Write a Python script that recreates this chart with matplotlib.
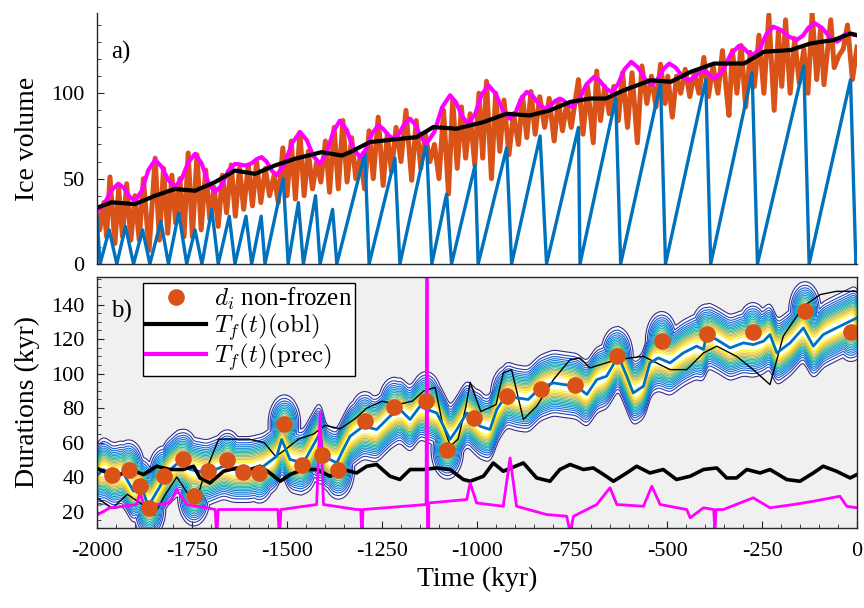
import numpy as np
import matplotlib.pyplot as plt
from matplotlib.colors import LinearSegmentedColormap
from matplotlib.ticker import MultipleLocator
from matplotlib.lines import Line2D

plt.rcParams['font.family'] = 'Liberation Serif'
plt.rcParams['mathtext.fontset'] = 'cm'
plt.rcParams['axes.unicode_minus'] = False

# ---------------- panel a) ice volume ----------------
saw_t = [-2000, -1992, -1968, -1948, -1925, -1904, -1880, -1861, -1832, -1812,
         -1785, -1764, -1742, -1724, -1698, -1681, -1652, -1637, -1608, -1593,
         -1568, -1558, -1510, -1497, -1470, -1457, -1425, -1413, -1380, -1369,
         -1295, -1284, -1216, -1203, -1133, -1119, -1080, -1067, -1005, -997,
         -922, -909, -834, -817, -733, -729, -635, -622, -517, -504,
         -398, -385, -276, -262, -140, -126, -17, -3, 0]
saw_v = [28, 0, 20, 0, 22, 0, 20, 0, 25, 0,
         30, 0, 20, 0, 32, 0, 28, 0, 28, 0,
         28, 0, 50, 0, 36, 0, 40, 0, 32, 0,
         65, 0, 62, 0, 71, 0, 41, 0, 58, 0,
         68, 0, 75, 0, 80, 0, 97, 0, 106, 0,
         108, 0, 112, 0, 116, 0, 108, 0, 3]

orange_t = [-2000, -1993, -1982, -1975, -1966, -1953, -1943, -1933, -1922, -1911,
            -1900, -1889, -1878, -1863, -1847, -1836, -1825, -1814, -1803, -1793,
            -1782, -1771, -1760, -1749, -1737, -1726, -1714, -1703, -1692, -1681,
            -1670, -1659, -1647, -1636, -1625, -1614, -1602, -1591, -1580, -1569,
            -1557, -1546, -1534, -1523, -1511, -1500, -1489, -1478, -1466, -1455,
            -1444, -1433, -1422, -1411, -1399, -1388, -1376, -1365, -1353, -1342,
            -1330, -1319, -1307, -1296, -1284, -1273, -1260, -1247, -1236, -1225,
            -1213, -1200, -1187, -1172, -1160, -1148, -1136, -1124, -1112, -1100,
            -1088, -1075, -1064, -1052, -1041, -1030, -1018, -1006, -995, -985,
            -975, -962, -951, -940, -929, -916, -904, -891, -880, -869,
            -858, -847, -835, -822, -810, -797, -786, -775, -764, -752,
            -733, -721, -709, -694, -685, -675, -664, -652, -640, -628,
            -617, -604, -592, -578, -566, -553, -541, -529, -517, -505,
            -498, -486, -475, -464, -452, -440, -428, -416, -403, -391,
            -379, -366, -354, -345, -337, -328, -316, -305, -293, -281,
            -270, -258, -245, -232, -218, -207, -198, -188, -176, -164,
            -152, -140, -129, -118, -106, -96, -87, -69, -60, -48,
            -36, -25, -12, 0]
orange_v = [30, 20, 36, 16, 51, 12, 44, 16, 47, 14,
            40, 14, 50, 8, 62, 14, 56, 18, 52, 24,
            50, 16, 65, 16, 64, 20, 55, 26, 45, 22,
            52, 30, 58, 28, 56, 32, 58, 34, 60, 36,
            56, 40, 52, 36, 68, 40, 72, 38, 77, 40,
            66, 44, 60, 48, 72, 42, 80, 44, 84, 48,
            74, 50, 63, 44, 78, 50, 86, 46, 76, 54,
            80, 60, 90, 49, 84, 56, 76, 60, 70, 50,
            90, 41, 96, 56, 92, 62, 88, 58, 100, 62,
            107, 50, 100, 66, 96, 64, 88, 70, 98, 74,
            101, 76, 98, 80, 97, 72, 96, 78, 94, 80,
            108, 76, 104, 71, 113, 84, 104, 88, 104, 84,
            112, 80, 112, 71, 116, 94, 110, 92, 117, 94,
            110, 86, 110, 100, 114, 98, 112, 100, 121, 98,
            116, 100, 125, 104, 87, 125, 100, 128, 92, 124,
            104, 134, 100, 146, 90, 136, 104, 143, 100, 132,
            106, 126, 100, 147, 108, 138, 105, 143, 115, 122,
            126, 140, 108, 127]

env_t = [-2000, -1981, -1963, -1944, -1929, -1915, -1900, -1882, -1865, -1847,
         -1830, -1812, -1795, -1777, -1760, -1742, -1725, -1707, -1690, -1672,
         -1655, -1637, -1627, -1616, -1606, -1593, -1580, -1567, -1554, -1540,
         -1527, -1507, -1486, -1466, -1448, -1431, -1413, -1396, -1378, -1361,
         -1343, -1326, -1308, -1292, -1276, -1260, -1247, -1233, -1220, -1205,
         -1191, -1176, -1162, -1147, -1133, -1112, -1092, -1071, -1055, -1039,
         -1023, -1005, -988, -970, -951, -932, -913, -898, -884, -869,
         -853, -837, -821, -808, -795, -782, -772, -761, -751, -731,
         -712, -692, -677, -662, -647, -629, -612, -594, -576, -558,
         -540, -525, -509, -494, -477, -460, -443, -430, -417, -404,
         -394, -384, -374, -353, -332, -311, -298, -286, -273, -255,
         -238, -220, -200, -179, -159, -143, -127, -111, -92, -72,
         -53, -44, -36, -27, -18, -9, 0]
env_v = [31, 35, 43, 47, 44.5, 39.5, 37, 43, 55, 61,
         57, 49, 45, 50, 59.5, 64.5, 59, 47.5, 42, 46,
         54.5, 58.6, 58.4, 57.9, 57.7, 59, 61.4, 62.6, 60, 54.6,
         52, 58.3, 71, 77.3, 72.6, 63.3, 58.6, 65, 77.6, 84,
         78.6, 68, 62.6, 67.3, 76.5, 81.2, 79.2, 75.3, 73.3, 76.3,
         82.1, 85.1, 81.4, 74.1, 70.4, 77.5, 91.7, 98.8, 94.6, 86.4,
         82.2, 87.8, 99.1, 104.7, 99.8, 90, 85.1, 89, 96.9, 100.8,
         98.4, 93.5, 91, 92.5, 95.4, 96.9, 95.7, 93.2, 92, 96.4,
         105.2, 109.6, 107.4, 103, 100.8, 105.2, 114, 118.4, 115, 108.4,
         105, 108.1, 114.3, 117.4, 115, 110, 107.6, 109, 112, 113.5,
         112.3, 109.8, 108.6, 113.4, 123, 127.7, 126.4, 123.7, 122.4, 126.5,
         134.8, 139, 137, 133.2, 131.2, 133.6, 138.5, 141, 138.3, 132.9,
         130.2, 131.4, 133.8, 135, 134.8, 134.3, 134]

mean_t = [-2000, -1961, -1900, -1847, -1795, -1742, -1690, -1637, -1584, -1532,
          -1479, -1409, -1356, -1334, -1282, -1203, -1159, -1115, -1054, -983,
          -922, -861, -808, -755, -703, -661, -613, -543, -490, -438,
          -376, -297, -245, -175, -122, -61, -17, 0]
mean_v = [33, 36.1, 35.1, 40, 43.9, 42.9, 47.9, 54.7, 52.8, 57.7,
          61.6, 65.5, 63.5, 65.5, 71.4, 73.3, 74.3, 80.2, 79.2, 83.1,
          88, 87, 90, 94.9, 96.9, 96.9, 101.8, 107.6, 106.7, 112.5,
          117.4, 117.4, 124.3, 125.3, 129.2, 131.2, 135, 134]

# ---------------- panel b) durations ----------------
dots_t = [-1961, -1917, -1887, -1862, -1824, -1773, -1745, -1707, -1657, -1615,
          -1573, -1507, -1461, -1409, -1365, -1295, -1218, -1134, -1078, -1007,
          -922, -832, -742, -632, -514, -396, -274, -137, -16]
dots_d = [41.5, 44.4, 34.7, 21.8, 40.9, 50.6, 28.9, 43.4, 50.2, 42.8,
          42.1, 70.5, 47.3, 53.1, 44.4, 72.4, 80.7, 84, 56, 74,
          87.3, 91.1, 93.3, 110, 118.8, 123.2, 124, 136.1, 124.2]

med_t = [-2000, -1983, -1957, -1931, -1904, -1887, -1865, -1834, -1817, -1782,
         -1755, -1711, -1667, -1641, -1597, -1562, -1527, -1514, -1492, -1457,
         -1413, -1404, -1369, -1352, -1334, -1299, -1264, -1229, -1203, -1176,
         -1150, -1132, -1106, -1088, -1071, -1053, -1027, -992, -966, -948,
         -922, -896, -865, -834, -799, -773, -738, -711, -685, -659,
         -628, -606, -589, -562, -545, -523, -492, -457, -422, -404,
         -396, -369, -334, -299, -273, -246, -229, -211, -176, -141,
         -115, -89, -54, -27, 0]
med_d = [41, 44.4, 40.5, 42.4, 31.8, 36.7, 23.1, 34.7, 42.4, 49.2,
         44.4, 42.4, 46.3, 44.4, 44.4, 46.3, 52.1, 61.8, 50.2, 48.2,
         65.6, 52.1, 48.2, 56, 63.7, 69.5, 67.6, 75.3, 79.2, 73.4,
         81.1, 79.2, 77.2, 69.5, 61.8, 67.6, 77.2, 69.5, 67.6, 79.2,
         87.9, 85.9, 85, 91.7, 94.6, 93.7, 92.7, 87.9, 96.5, 98.5,
         110.1, 98.5, 88.8, 92.7, 106.2, 109.1, 106.2, 112, 115.9, 114,
         122.6, 119.7, 114.9, 117.8, 116.8, 118.8, 122.6, 112, 117.8, 126.5,
         115.9, 122.6, 126.5, 129.4, 132.3]

thin_t = [-2000, -1960, -1920, -1880, -1850, -1820, -1790, -1760, -1740, -1720,
          -1680, -1640, -1600, -1560, -1530, -1510, -1470, -1430, -1400, -1360,
          -1320, -1290, -1250, -1210, -1170, -1140, -1110, -1090, -1070, -1050,
          -1030, -1018, -990, -950, -931, -909, -878, -843, -799, -755,
          -729, -703, -632, -562, -492, -448, -404, -369, -317, -273,
          -229, -194, -141, -97, -54, 0]
thin_d = [28, 22, 30, 24, 18, 30, 40, 30, 25, 40,
          62, 62, 62, 60, 52, 55, 62, 65, 70, 68,
          74, 80, 84, 82, 84, 90, 92, 70, 58, 62,
          80, 95, 78, 82, 100.4, 102.3, 73.4, 81.1, 96.5, 108.1,
          109.1, 103.3, 108.1, 110, 102.3, 102.3, 112, 115.9, 110, 102.3,
          93.6, 121.7, 139, 145.8, 147.7, 147.7]

obl_t = [-2000, -1983, -1948, -1913, -1878, -1843, -1808, -1773, -1746, -1729,
         -1703, -1667, -1632, -1597, -1571, -1545, -1518, -1492, -1457, -1422,
         -1387, -1352, -1317, -1290, -1264, -1229, -1203, -1176, -1141, -1106,
         -1071, -1036, -1018, -983, -957, -931, -878, -843, -808, -782,
         -755, -720, -694, -667, -641, -606, -580, -545, -510, -475,
         -439, -404, -369, -343, -317, -290, -255, -229, -185, -150,
         -115, -89, -54, -18, 0]
obl_d = [45, 43.4, 40.5, 44.4, 41.5, 46.3, 44.4, 44.4, 46.3, 39.5,
         36.6, 43.4, 45.3, 44.4, 46.3, 42.4, 37.6, 41.5, 44.4, 44.4,
         40.5, 44.4, 42.4, 46.3, 47.3, 40.5, 38.6, 44.4, 44.4, 45.3,
         44.4, 38.6, 37.6, 40.5, 48.2, 43.4, 48.2, 39.5, 37.6, 44.4,
         47.3, 44.4, 45.3, 41.5, 37.6, 42.4, 46.3, 42.4, 44.4, 38.6,
         40.5, 44.4, 45.3, 39.5, 39.5, 44.4, 42.4, 44.4, 38.6, 37.6,
         42.4, 46.3, 43.4, 39.5, 41.5]

prec_t = [-2000, -1966, -1931, -1896, -1887, -1878, -1843, -1808, -1790, -1764,
          -1711, -1689, -1685, -1681, -1580, -1524, -1520, -1516, -1422, -1413,
          -1404, -1317, -1306, -1303, -1300, -1134, -1130.6, -1130.4, -1127, -1027,
          -1018, -1001, -931, -913, -896, -817, -764, -755, -746, -685,
          -650, -632, -562, -540, -518, -448, -439, -404, -377, -374,
          -371, -352, -273, -229, -167, -115, -45, -27, 0]
prec_d = [18, 22.2, 23.1, 24.1, 30.9, 25, 24.1, 25, 32.8, 24.1,
          22.2, 21.2, 5, 21.2, 21.2, 21.2, 5, 21.2, 24.1, 77.2,
          24.1, 21.2, 21.2, 5, 21.2, 24.1, 400, -300, 25, 27,
          36.6, 25, 23.1, 51.1, 23.1, 18.3, 17.3, 8, 17.3, 24.1,
          33.8, 24.1, 23.1, 34.7, 24.1, 21.2, 16.4, 22.2, 21.2, 8,
          21.2, 21.2, 28, 22.2, 24.1, 26, 28.9, 23.1, 22.2]

c_blue = '#0072BD'
c_orange = '#D95319'
c_mag = '#FF00FF'
axcol = '#262626'

parula = LinearSegmentedColormap.from_list('parula', [
    (0.208, 0.166, 0.529), (0.070, 0.360, 0.860), (0.078, 0.522, 0.831),
    (0.024, 0.652, 0.757), (0.220, 0.724, 0.593), (0.590, 0.749, 0.393),
    (0.953, 0.729, 0.220), (0.976, 0.984, 0.055)])

fig = plt.figure(figsize=(8.64, 6.08), dpi=100)
ax1 = fig.add_axes([0.1123, 0.5658, 0.8796, 0.4128])
ax2 = fig.add_axes([0.1123, 0.1316, 0.8796, 0.4128])

# panel a
ax1.plot(orange_t, orange_v, color=c_orange, lw=3.6, solid_joinstyle='round')
ax1.plot(saw_t, saw_v, color=c_blue, lw=2.4)
ax1.plot(env_t, env_v, color=c_mag, lw=3)
ax1.plot(mean_t, mean_v, color='k', lw=3)
ax1.set_xlim(-2000, 0)
ax1.set_ylim(0, 147)
ax1.set_ylabel('Ice volume', fontsize=20)
ax1.spines['top'].set_visible(False)
ax1.spines['right'].set_visible(False)
ax1.yaxis.set_major_locator(MultipleLocator(50))
ax1.yaxis.set_minor_locator(MultipleLocator(10))
ax1.tick_params(axis='x', bottom=False, labelbottom=False)
ax1.text(0.018, 0.82, 'a)', transform=ax1.transAxes, fontsize=18)

# panel b: density contours of the durations (line mode + bulges at the points)
tg = np.arange(-2000, 1, 2.0)
dg = np.arange(0, 170, 0.5)
mu = np.interp(tg, med_t, med_d)
Z = np.exp(-(dg[:, None] - mu[None, :]) ** 2 / (2 * 8.5 ** 2))
k = np.exp(-0.5 * (np.arange(-9, 10) / 3.0) ** 2)
k /= k.sum()
Z = np.array([np.convolve(row, k, mode='same') for row in Z])
for dt, dd in zip(dots_t, dots_d):
    blob = np.exp(-((tg[None, :] - dt) / 20.0) ** 2 / 2 - ((dg[:, None] - dd) / 8.0) ** 2 / 2)
    Z = np.maximum(Z, 0.8 * blob)
ax2.set_facecolor('#f0f0f0')
ax2.contourf(tg, dg, Z, levels=[0.08, 10], colors='white')
ax2.contour(tg, dg, Z, levels=np.linspace(0.08, 0.9, 16), cmap=parula, linewidths=0.8)

ax2.plot(thin_t, thin_d, color='k', lw=1)
ax2.plot(med_t, med_d, color=c_blue, lw=2)
ax2.plot(obl_t, obl_d, color='k', lw=2.6)
ax2.plot(prec_t, prec_d, color=c_mag, lw=2)
ax2.plot(dots_t, dots_d, 'o', color=c_orange, ms=12, mec='none')
ax2.set_xlim(-2000, 0)
ax2.set_ylim(10.5, 156)
ax2.set_xlabel('Time (kyr)', fontsize=20, labelpad=4)
ax2.set_ylabel('Durations (kyr)', fontsize=20)
ax2.xaxis.set_major_locator(MultipleLocator(250))
ax2.xaxis.set_minor_locator(MultipleLocator(50))
ax2.yaxis.set_major_locator(MultipleLocator(20))
ax2.yaxis.set_minor_locator(MultipleLocator(5))
ax2.text(0.018, 0.84, 'b)', transform=ax2.transAxes, fontsize=18)

handles = [Line2D([], [], ls='none', marker='o', ms=12, color=c_orange, mec='none'),
           Line2D([], [], color='k', lw=3),
           Line2D([], [], color=c_mag, lw=3)]
labels = [r'$d_i$ non-frozen', r'$T_f(t)(\mathrm{obl})$', r'$T_f(t)(\mathrm{prec})$']
leg = ax2.legend(handles, labels, loc='upper left', bbox_to_anchor=(0.0605, 0.976),
                 borderaxespad=0, fontsize=18, fancybox=False, framealpha=1,
                 edgecolor='k', handlelength=2.4, handletextpad=0.3,
                 labelspacing=-0.05, borderpad=0.12)
leg.get_frame().set_linewidth(1)

for ax in (ax1, ax2):
    for s in ax.spines.values():
        s.set_color(axcol)
        s.set_linewidth(1)
    ax.tick_params(which='both', direction='in', colors=axcol, labelcolor='k',
                   labelsize=16)
    ax.tick_params(which='major', length=5)
    ax.tick_params(which='minor', length=3)
    ax.tick_params(axis='y', pad=9)
ax2.tick_params(axis='x', pad=10)
ax1.yaxis.set_label_coords(-0.075, 0.5)
ax2.yaxis.set_label_coords(-0.075, 0.5)

fig.savefig('out.png', dpi=100)
